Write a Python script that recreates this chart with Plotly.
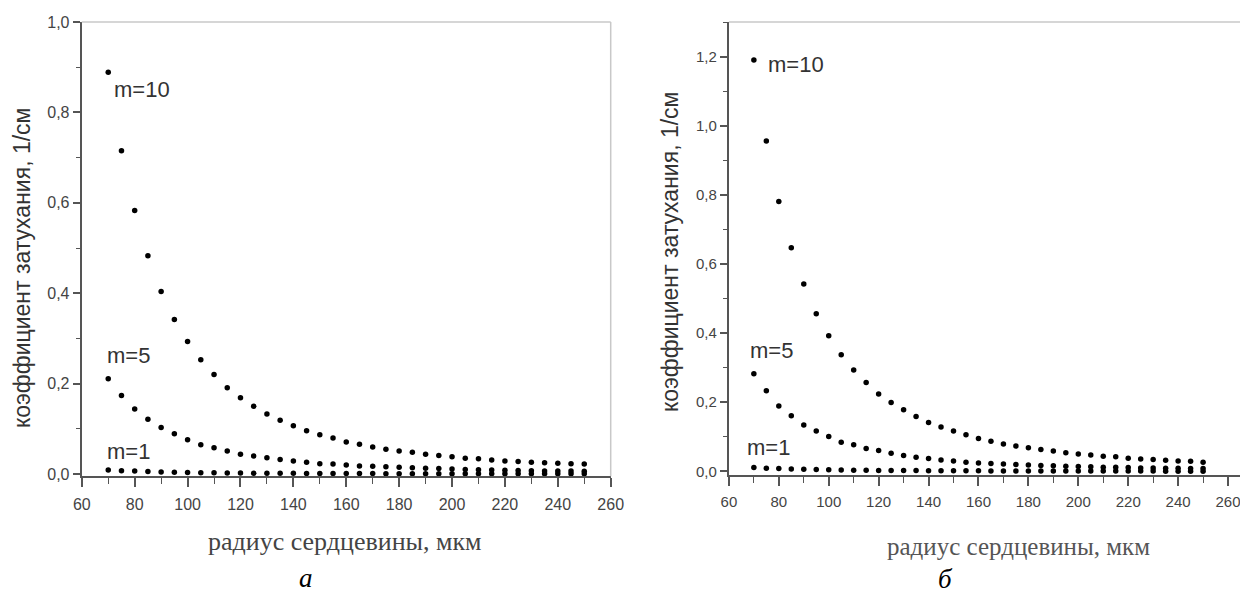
import plotly.graph_objects as go

radius = [70, 75, 80, 85, 90, 95, 100, 105, 110, 115, 120, 125, 130, 135, 140, 145, 150,
          155, 160, 165, 170, 175, 180, 185, 190, 195, 200, 205, 210, 215, 220, 225, 230,
          235, 240, 245, 250]

a_m10 = [0.889, 0.715, 0.583, 0.483, 0.404, 0.342, 0.293, 0.253, 0.220, 0.191,
         0.169, 0.150, 0.133, 0.119, 0.107, 0.096, 0.087, 0.080, 0.071, 0.066,
         0.060, 0.055, 0.051, 0.048, 0.044, 0.041, 0.038, 0.035, 0.034, 0.031,
         0.029, 0.028, 0.026, 0.025, 0.024, 0.023, 0.022]
a_m5 = [0.211, 0.174, 0.144, 0.121, 0.103, 0.089, 0.076, 0.065, 0.058, 0.051,
        0.044, 0.040, 0.036, 0.032, 0.029, 0.026, 0.023, 0.022, 0.020, 0.018,
        0.017, 0.016, 0.015, 0.014, 0.013, 0.012, 0.011, 0.010, 0.0095, 0.009,
        0.0085, 0.008, 0.0075, 0.007, 0.0068, 0.0065, 0.006]
a_m1 = [0.009, 0.0075, 0.0065, 0.0055, 0.0047, 0.004, 0.0035, 0.0031, 0.0028, 0.0025,
        0.0022, 0.002, 0.0018, 0.0016, 0.0015, 0.0014, 0.0013, 0.0012, 0.0011, 0.001,
        0.001, 0.0009, 0.0009, 0.0008, 0.0008, 0.0007, 0.0007, 0.0007, 0.0006, 0.0006,
        0.0006, 0.0005, 0.0005, 0.0005, 0.0005, 0.0004, 0.0004]

b_m10 = [1.190, 0.956, 0.781, 0.647, 0.542, 0.456, 0.392, 0.337, 0.293, 0.257,
         0.224, 0.199, 0.178, 0.159, 0.141, 0.128, 0.117, 0.106, 0.095, 0.087,
         0.079, 0.073, 0.068, 0.063, 0.059, 0.054, 0.050, 0.047, 0.044, 0.042,
         0.038, 0.036, 0.034, 0.032, 0.030, 0.029, 0.026]
b_m5 = [0.282, 0.233, 0.189, 0.161, 0.134, 0.117, 0.101, 0.084, 0.077, 0.066,
        0.060, 0.052, 0.046, 0.041, 0.037, 0.033, 0.030, 0.026, 0.024, 0.023,
        0.021, 0.020, 0.018, 0.017, 0.016, 0.015, 0.014, 0.013, 0.012, 0.012,
        0.011, 0.010, 0.010, 0.009, 0.009, 0.008, 0.008]
b_m1 = [0.011, 0.009, 0.008, 0.0068, 0.0058, 0.005, 0.0044, 0.0039, 0.0035, 0.0031,
        0.0028, 0.0025, 0.0023, 0.0021, 0.0019, 0.0018, 0.0016, 0.0015, 0.0014, 0.0013,
        0.0012, 0.0012, 0.0011, 0.001, 0.001, 0.0009, 0.0009, 0.0008, 0.0008, 0.0008,
        0.0007, 0.0007, 0.0007, 0.0006, 0.0006, 0.0006, 0.0006]

x_title = "радиус сердцевины, мкм"
y_title = "коэффициент затухания, 1/см"
series_labels = ["m=10", "m=5", "m=1"]
panel_labels = ["а", "б"]

# page body has an 8px margin, so the figure is sized to fit inside the window
W, H, OFF = 1240, 587, 8

AXIS_COLOR = "#555555"
FRAME_COLOR = "#c8c8c8"
SANS = "Liberation Sans, Arial, sans-serif"
SERIF = "Liberation Serif, Times New Roman, serif"


def px(x):
    return (x - OFF) / W


def py(y):
    return 1 - (y - OFF) / H


fig = go.Figure()

marker = dict(color="black", size=5.5, symbol="circle")
for ys in (a_m10, a_m5, a_m1):
    fig.add_trace(go.Scatter(x=radius, y=ys, mode="markers", marker=marker,
                             xaxis="x", yaxis="y", showlegend=False))
for ys in (b_m10, b_m5, b_m1):
    fig.add_trace(go.Scatter(x=radius, y=ys, mode="markers", marker=marker,
                             xaxis="x2", yaxis="y2", showlegend=False))


def xaxis_cfg(domain, rng, anchor, fsize):
    return dict(domain=domain, range=rng, anchor=anchor, automargin=False,
                tickmode="linear", tick0=60, dtick=20,
                ticks="outside", ticklen=9, tickwidth=1.5, tickcolor=AXIS_COLOR,
                minor=dict(dtick=10, tick0=60, ticks="outside", ticklen=6, tickwidth=1.2,
                           tickcolor=AXIS_COLOR),
                showline=True, linecolor=AXIS_COLOR, linewidth=2.2, showgrid=False,
                zeroline=False, tickfont=dict(family=SANS, size=fsize, color="#444444"),
                ticklabelstandoff=3)


def yaxis_cfg(domain, rng, anchor, fsize):
    return dict(domain=domain, range=rng, anchor=anchor, automargin=False,
                tickmode="linear", tick0=0, dtick=0.2,
                tickformat=".1f", ticks="outside", ticklen=7, tickwidth=1.5, tickcolor=AXIS_COLOR,
                minor=dict(dtick=0.1, tick0=0, ticks="outside", ticklen=4, tickwidth=1.2,
                           tickcolor=AXIS_COLOR),
                showline=True, linecolor=AXIS_COLOR, linewidth=2.2, showgrid=False,
                zeroline=False, tickfont=dict(family=SANS, size=fsize, color="#444444"))


fig.update_layout(
    width=W, height=H,
    margin=dict(l=0, r=0, t=0, b=0, autoexpand=False),
    paper_bgcolor="white", plot_bgcolor="white",
    separators=", ",
    xaxis=xaxis_cfg([px(81.8), px(610.7)], [60, 260], "y", 16),
    yaxis=yaxis_cfg([py(476.3), py(22)], [-0.005, 1.0], "x", 16),
    xaxis2=xaxis_cfg([px(728.9), 1.0], [60, 268], "y2", 15),
    yaxis2=yaxis_cfg([py(474.8), py(22)], [-0.01, 1.3], "x2", 15),
)

# light frame (top / right) like the original Origin plots
for xr, yr, right in (("x domain", "y domain", True), ("x2 domain", "y2 domain", False)):
    fig.add_shape(type="line", xref=xr, yref=yr, x0=0, x1=1, y0=1, y1=1,
                  line=dict(color=FRAME_COLOR, width=1.5))
    if right:
        fig.add_shape(type="line", xref=xr, yref=yr, x0=1, x1=1, y0=0, y1=1,
                      line=dict(color=FRAME_COLOR, width=1.5))

M_FONT = dict(family=SANS, size=22, color="#333333")
label_pos = {
    ("x", "y"): [(71.4, 0.85), (68.8, 0.263), (68.8, 0.049)],
    ("x2", "y2"): [(74.9, 1.176), (67.7, 0.351), (66.4, 0.070)],
}
for (xr, yr), positions in label_pos.items():
    for text, (lx, ly) in zip(series_labels, positions):
        fig.add_annotation(x=lx, y=ly, xref=xr, yref=yr, text=text, showarrow=False,
                           xanchor="left", yanchor="middle", font=M_FONT)

# axis titles
fig.add_annotation(x=px(22), y=py(268), xref="paper", yref="paper", text=y_title,
                   textangle=-90, showarrow=False, xanchor="center", yanchor="middle",
                   font=dict(family=SANS, size=23, color="#333333"))
fig.add_annotation(x=px(670), y=py(252), xref="paper", yref="paper", text=y_title,
                   textangle=-90, showarrow=False, xanchor="center", yanchor="middle",
                   font=dict(family=SANS, size=23, color="#333333"))
fig.add_annotation(x=px(345), y=py(541), xref="paper", yref="paper", text=x_title,
                   showarrow=False, xanchor="center", yanchor="middle",
                   font=dict(family=SERIF, size=26, color="#444444"))
fig.add_annotation(x=px(1018), y=py(546), xref="paper", yref="paper", text=x_title,
                   showarrow=False, xanchor="center", yanchor="middle",
                   font=dict(family=SERIF, size=25, color="#555555"))

PANEL_FONT = dict(family=SERIF, size=27, color="black")
fig.add_annotation(x=px(306), y=py(578), xref="paper", yref="paper",
                   text="<i>" + panel_labels[0] + "</i>", showarrow=False,
                   xanchor="center", yanchor="middle", font=PANEL_FONT)
fig.add_annotation(x=px(945), y=py(579), xref="paper", yref="paper",
                   text="<i>" + panel_labels[1] + "</i>", showarrow=False,
                   xanchor="center", yanchor="middle", font=PANEL_FONT)

fig.write_html("out.html")
